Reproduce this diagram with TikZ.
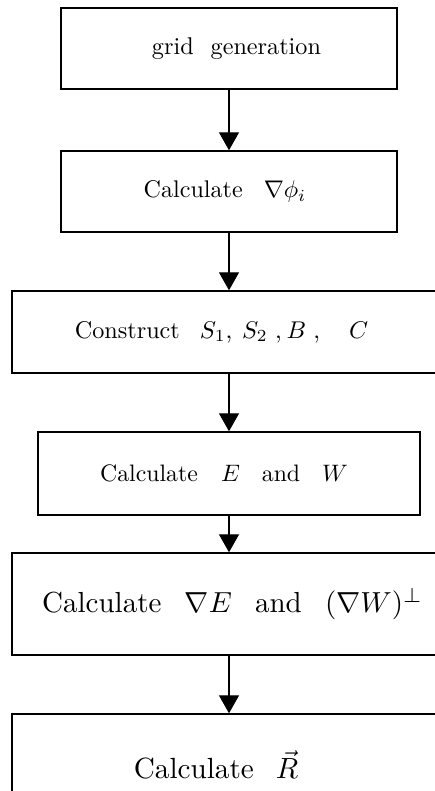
\documentclass[tikz,border=0pt]{standalone}
\usepackage{graphicx}
\usetikzlibrary{arrows.meta}
\begin{document}
\begin{tikzpicture}[x=1pt,y=-1pt,
  box/.style={draw,line width=1.4pt,inner sep=0pt,anchor=center},
  flow/.style={line width=1.3pt,-{Triangle[width=20pt,length=18pt]}}]
\useasboundingbox (0,0) rectangle (435,791);
\clip (0,0) rectangle (435,791);
\node[box,minimum width=336pt,minimum height=81pt] (b1) at (229,48.5)
  {\hspace{15pt}\scalebox{2.42}{grid\hspace{7pt}generation}};
\node[box,minimum width=336pt,minimum height=81pt] (b2) at (229,191.5)
  {\hspace{-8pt}\scalebox{2.41}{Calculate\hspace{8.7pt}$\nabla\phi_i$}};
\node[box,minimum width=434pt,minimum height=82pt] (b3) at (229,332)
  {\hspace{-15pt}\scalebox{2.42}{Construct\hspace{8.3pt}$S_1$,\hspace{4pt}$S_2$\hspace{3pt},\hspace{2pt}$B$\hspace{3pt},\hspace{12pt}$C$}};
\node[box,minimum width=382pt,minimum height=83pt] (b4) at (229,473.5)
  {\hspace{-10pt}\scalebox{2.38}{Calculate\hspace{9.7pt}$E$\hspace{9.2pt}and\hspace{9.2pt}$W$}};
\node[box,minimum width=434pt,minimum height=102pt] (b5) at (229,604)
  {\hspace{7pt}\scalebox{2.9}{Calculate\hspace{8pt}$\nabla E$\hspace{8pt}and\hspace{8pt}$(\nabla W)^{\perp}$}};
\node[box,minimum width=434pt,minimum height=102pt] (b6) at (229,765)
  {\hspace{-26pt}\scalebox{2.92}{Calculate\hspace{7.5pt}$\vec{R}$}};
\draw[flow] (b1.south) -- (b2.north);
\draw[flow] (b2.south) -- (b3.north);
\draw[flow] (b3.south) -- (b4.north);
\draw[flow] (b4.south) -- (b5.north);
\draw[flow] (b5.south) -- (b6.north);
\end{tikzpicture}
\end{document}
